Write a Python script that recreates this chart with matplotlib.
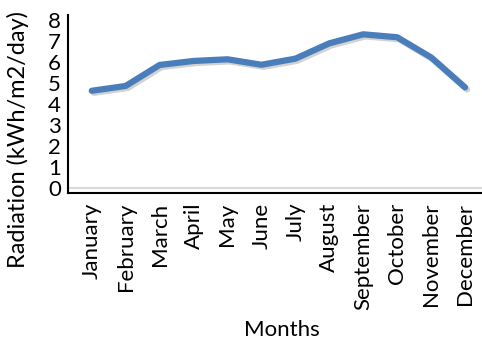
import numpy as np
import matplotlib
matplotlib.use('Agg')
import matplotlib.pyplot as plt
import matplotlib.patheffects as pe

plt.rcParams['font.family'] = ['Lato', 'DejaVu Sans']

months = ['January', 'February', 'March', 'April', 'May', 'June', 'July',
          'August', 'September', 'October', 'November', 'December']
radiation = [4.63, 4.86, 5.86, 6.05, 6.13, 5.87, 6.16, 6.89, 7.32, 7.18, 6.22, 4.79]
y_ticks = [0, 1, 2, 3, 4, 5, 6, 7, 8]

fig = plt.figure(figsize=(4.82, 3.47), dpi=100)
ax = fig.add_axes([68 / 482, (347 - 193) / 347, (482 - 68) / 482, (193 - 15) / 347])

x = np.arange(len(months))
ax.axhline(0, color='#d9d9d9', lw=1.5, zorder=1)
ax.plot(x, radiation, color='#4a7ebb', lw=4.5, solid_capstyle='round',
        solid_joinstyle='round', zorder=3,
        path_effects=[pe.SimpleLineShadow(offset=(1.5, -1.5), shadow_color='gray', alpha=0.35),
                      pe.Normal()])

ax.set_xlim(-0.7, 11.5)
ax.set_ylim(-0.24, 8.24)
ax.set_yticks(y_ticks)
ax.set_yticklabels([str(v) for v in y_ticks], fontsize=16)
ax.set_xticks(x)
ax.set_xticklabels(months, rotation=90, fontsize=16)
ax.tick_params(axis='y', length=0, pad=5)
ax.tick_params(axis='x', length=0, pad=7)

for s in ['top', 'right']:
    ax.spines[s].set_visible(False)
for s in ['left', 'bottom']:
    ax.spines[s].set_color('black')
    ax.spines[s].set_linewidth(1.5)

# axis titles centred like Excel does, on the chart rather than the plot area
fig.text(18 / 482, (347 - 139) / 347, 'Radiation (kWh/m2/day)', fontsize=17,
         rotation=90, ha='center', va='center')
fig.text(282 / 482, (347 - 330) / 347, 'Months', fontsize=16, ha='center', va='center')

fig.savefig('out.png', dpi=100)
